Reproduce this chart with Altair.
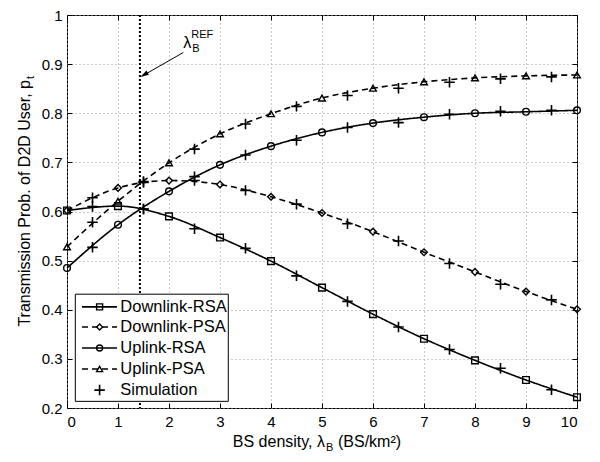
import altair as alt
import pandas as pd

# ---------------- data ----------------
x_theory = [0, 1, 2, 3, 4, 5, 6, 7, 8, 9, 10]
dl_rsa = [0.602, 0.611, 0.590, 0.547, 0.499, 0.445, 0.391, 0.341, 0.297, 0.257, 0.222]
dl_psa = [0.602, 0.648, 0.663, 0.655, 0.630, 0.597, 0.559, 0.517, 0.477, 0.437, 0.401]
ul_rsa = [0.485, 0.573, 0.641, 0.695, 0.733, 0.761, 0.780, 0.792, 0.800, 0.803, 0.806]
ul_psa = [0.528, 0.621, 0.699, 0.758, 0.799, 0.831, 0.851, 0.864, 0.872, 0.876, 0.878]

x_sim = [0.5, 1.5, 2.5, 3.5, 4.5, 5.5, 6.5, 7.5, 8.5, 9.5]
sim_dl_rsa = [0.610, 0.605, 0.565, 0.525, 0.469, 0.417, 0.365, 0.319, 0.281, 0.237]
sim_dl_psa = [0.628, 0.659, 0.663, 0.643, 0.615, 0.575, 0.540, 0.494, 0.452, 0.420]
sim_ul_rsa = [0.527, 0.605, 0.671, 0.715, 0.745, 0.771, 0.781, 0.798, 0.804, 0.806]
sim_ul_psa = [0.578, 0.661, 0.727, 0.778, 0.814, 0.836, 0.851, 0.863, 0.870, 0.874]

series_names = ["Downlink-RSA", "Downlink-PSA", "Uplink-RSA", "Uplink-PSA"]
series_shapes = ["square", "diamond", "circle", "triangle-up"]
series_styles = ["solid", "dashed", "solid", "dashed"]
sim_name = "Simulation"

lambda_ref = 1.43
x_ticks = [0, 1, 2, 3, 4, 5, 6, 7, 8, 9, 10]
y_ticks = [0.2, 0.3, 0.4, 0.5, 0.6, 0.7, 0.8, 0.9, 1.0]

x_title_main = "BS density, λ"
x_title_sub = "B"
x_title_rest = "(BS/km²)"
y_title_main = "Transmission Prob. of D2D User, p"
y_title_sub = "t"

# ---------------- tables ----------------
theory_vals = [dl_rsa, dl_psa, ul_rsa, ul_psa]
sim_vals = [sim_dl_rsa, sim_dl_psa, sim_ul_rsa, sim_ul_psa]

theory = pd.DataFrame(
    [
        {"x": x, "y": v, "series": n, "style": s}
        for n, s, vals in zip(series_names, series_styles, theory_vals)
        for x, v in zip(x_theory, vals)
    ]
)
sims = pd.DataFrame(
    [{"x": x, "y": v} for vals in sim_vals for x, v in zip(x_sim, vals)]
)

FONT = "Liberation Sans"
PLUS = "M-1,0L1,0M0,-1L0,1"
ARROW = "M0,0L-0.5,1.8L0.5,1.8Z"

xs = alt.Scale(domain=[0, 10], nice=False, zero=False)
ys = alt.Scale(domain=[0.2, 1.0], nice=False, zero=False)

dash_scale = alt.Scale(domain=["solid", "dashed"], range=[[1, 0], [6, 4]])
shape_scale = alt.Scale(domain=series_names, range=series_shapes)


def X(field="x", axis=None):
    return alt.X(f"{field}:Q", scale=xs, axis=axis)


def Y(field="y", axis=None):
    return alt.Y(f"{field}:Q", scale=ys, axis=axis)


# layout helpers (pixel positions of the reference converted to data space)
def px2x(p):
    return (p - 66.7) / 51.0


def px2y(p):
    return 1 - (p - 6.7) / 502.0


# ---------------- axes ----------------
axis_x_main = alt.Axis(
    values=x_ticks, grid=True, gridDash=[1, 3], gridColor="#9a9a9a", gridWidth=1,
    ticks=False, domain=False, labelFont=FONT, labelFontSize=15, labelColor="black",
    labelPadding=6, title=None,
)
axis_y_main = alt.Axis(
    values=y_ticks, grid=True, gridDash=[1, 3], gridColor="#9a9a9a", gridWidth=1,
    ticks=False, domain=False, labelFont=FONT, labelFontSize=15, labelColor="black",
    labelPadding=5, title=None,
    labelExpr="datum.value >= 0.999 ? '1' : format(datum.value, '.1f')",
)


def tick_axis(orient, values):
    return alt.Axis(
        orient=orient, values=values, offset=-5, tickSize=5, ticks=True,
        tickColor="black", tickWidth=1, labels=False, domain=False, grid=False, title=None,
    )


# ---------------- layers ----------------
axes_layer = alt.Chart(theory).mark_point(opacity=0).encode(
    x=X(axis=axis_x_main), y=Y(axis=axis_y_main)
)
ticks_bl = alt.Chart(theory).mark_point(opacity=0).encode(
    x=X(axis=tick_axis("bottom", x_ticks)), y=Y(axis=tick_axis("left", y_ticks))
)
ticks_tr = alt.Chart(theory).mark_point(opacity=0).encode(
    x=X(axis=tick_axis("top", x_ticks)), y=Y(axis=tick_axis("right", y_ticks))
)

ref_df = pd.DataFrame({"x": [lambda_ref]})
ref_line = alt.Chart(ref_df).mark_rule(color="black", strokeWidth=2, strokeDash=[2, 2]).encode(
    x=X()
)

lines = alt.Chart(theory).mark_line(color="black", strokeWidth=1.6, interpolate="monotone").encode(
    x=X(), y=Y(), detail="series:N",
    strokeDash=alt.StrokeDash("style:N", scale=dash_scale, legend=None),
)
markers = alt.Chart(theory).mark_point(
    color="black", filled=False, strokeWidth=1.4, size=45, opacity=1
).encode(
    x=X(), y=Y(), shape=alt.Shape("series:N", scale=shape_scale, legend=None)
)
sim_marks = alt.Chart(sims).mark_point(
    shape=PLUS, color="black", filled=False, strokeWidth=1.6, size=110, opacity=1
).encode(x=X(), y=Y())

# annotation lambda_B^REF with arrow
arrow_df = pd.DataFrame(
    {"x": [px2x(183)], "y": [px2y(45)], "x2": [px2x(142)], "y2": [px2y(69)]}
)
arrow_line = alt.Chart(arrow_df).mark_rule(color="black", strokeWidth=1).encode(
    x=X(), y=Y(), x2="x2:Q", y2="y2:Q"
)
head_df = pd.DataFrame({"x": [px2x(140)], "y": [px2y(70)]})
arrow_head = alt.Chart(head_df).mark_point(
    shape=ARROW, filled=True, color="black", size=90, angle=240, opacity=1
).encode(x=X(), y=Y())

lab_df = pd.DataFrame({"x": [px2x(191)], "y": [px2y(40)]})
lab_lambda = alt.Chart(lab_df).mark_text(
    text="λ", font=FONT, fontSize=16, align="right", baseline="alphabetic", color="black"
).encode(x=X(), y=Y())
lab_b = alt.Chart(lab_df).mark_text(
    text="B", font=FONT, fontSize=11, align="left", baseline="alphabetic", dx=1, dy=4, color="black"
).encode(x=X(), y=Y())
lab_ref = alt.Chart(lab_df).mark_text(
    text="REF", font=FONT, fontSize=11, align="left", baseline="alphabetic", dx=0, dy=-10, color="black"
).encode(x=X(), y=Y())

# legend box
box_df = pd.DataFrame({"x": [px2x(75)], "x2": [px2x(228)], "y": [px2y(292)], "y2": [px2y(401.5)]})
legend_box = alt.Chart(box_df).mark_rect(fill="white", stroke="black", strokeWidth=1).encode(
    x=X(), x2="x2:Q", y=Y(), y2="y2:Q"
)
row_px = [305, 325.5, 347, 368.5, 390]
leg_df = pd.DataFrame(
    {
        "series": series_names,
        "style": series_styles,
        "x": [px2x(81.7)] * 4,
        "x2": [px2x(116.7)] * 4,
        "xm": [px2x(99.3)] * 4,
        "y": [px2y(p) for p in row_px[:4]],
    }
)
leg_lines = alt.Chart(leg_df).mark_rule(color="black", strokeWidth=1.6).encode(
    x=X(), x2="x2:Q", y=Y(),
    strokeDash=alt.StrokeDash("style:N", scale=dash_scale, legend=None),
)
leg_marks = alt.Chart(leg_df).mark_point(
    color="black", filled=False, strokeWidth=1.4, size=36, opacity=1
).encode(x=X("xm"), y=Y(), shape=alt.Shape("series:N", scale=shape_scale, legend=None))
leg_sim_df = pd.DataFrame({"x": [px2x(99.3)], "y": [px2y(row_px[4])]})
leg_sim = alt.Chart(leg_sim_df).mark_point(
    shape=PLUS, color="black", filled=False, strokeWidth=1.6, size=110, opacity=1
).encode(x=X(), y=Y())
leg_text_df = pd.DataFrame(
    {"label": series_names + [sim_name], "x": [px2x(120)] * 5, "y": [px2y(p) for p in row_px]}
)
leg_text = alt.Chart(leg_text_df).mark_text(
    font=FONT, fontSize=16.5, align="left", baseline="middle", color="black"
).encode(x=X(), y=Y(), text="label:N")

# axis titles with sub-/superscripts
one = pd.DataFrame({"k": [0]})
xt_x, xt_y = 258, 432
xt1 = alt.Chart(one).mark_text(
    text=x_title_main, font=FONT, fontSize=16, align="right", baseline="alphabetic", color="black"
).encode(x=alt.value(xt_x), y=alt.value(xt_y))
xt2 = alt.Chart(one).mark_text(
    text=x_title_sub, font=FONT, fontSize=11, align="left", baseline="alphabetic", dx=1, dy=4, color="black"
).encode(x=alt.value(xt_x), y=alt.value(xt_y))
xt3 = alt.Chart(one).mark_text(
    text=x_title_rest, font=FONT, fontSize=16, align="left", baseline="alphabetic", dx=13, color="black"
).encode(x=alt.value(xt_x), y=alt.value(xt_y))

yt_x, yt_y = -37, 65
yt1 = alt.Chart(one).mark_text(
    text=y_title_main, font=FONT, fontSize=16, align="right", baseline="alphabetic", angle=270, color="black"
).encode(x=alt.value(yt_x), y=alt.value(yt_y))
yt2 = alt.Chart(one).mark_text(
    text=y_title_sub, font=FONT, fontSize=11, align="left", baseline="alphabetic", angle=270, dx=1, dy=4, color="black"
).encode(x=alt.value(yt_x), y=alt.value(yt_y))

chart = (
    alt.layer(
        axes_layer, ticks_bl, ticks_tr,
        lines, markers, sim_marks, ref_line,
        arrow_line, arrow_head, lab_lambda, lab_b, lab_ref,
        legend_box, leg_lines, leg_marks, leg_sim, leg_text,
        xt1, xt2, xt3, yt1, yt2,
    )
    .resolve_axis(x="independent", y="independent")
    .properties(
        width=510, height=393,
        autosize=alt.AutoSizeParams(type="none"),
        padding={"left": 59, "top": 7, "right": 15, "bottom": 46},
        background="white",
    )
    .configure_view(stroke="black", strokeWidth=1)
)

chart.save("out.html", embed_options={"renderer": "svg", "actions": False})
